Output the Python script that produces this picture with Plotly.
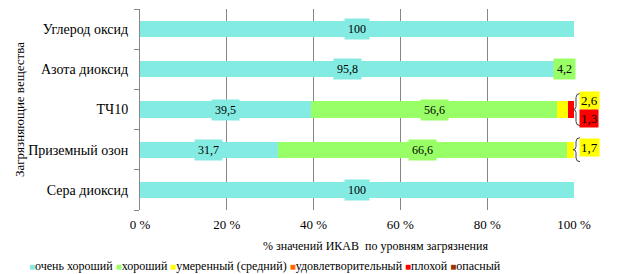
import plotly.graph_objects as go

categories = ["Углерод оксид", "Азота диоксид", "ТЧ10", "Приземный озон", "Сера диоксид"]
levels = ["очень хороший", "хороший", "умеренный (средний)", "удовлетворительный", "плохой", "опасный"]
colors = ["#83EBE2", "#99FF66", "#FFFF00", "#FF6600", "#FF0000", "#993300"]
values = {
    "очень хороший":       [100, 95.8, 39.5, 31.7, 100],
    "хороший":             [0, 4.2, 56.6, 66.6, 0],
    "умеренный (средний)": [0, 0, 2.6, 1.7, 0],
    "удовлетворительный":  [0, 0, 0, 0, 0],
    "плохой":              [0, 0, 1.3, 0, 0],
    "опасный":             [0, 0, 0, 0, 0],
}
tick_vals = [0, 20, 40, 60, 80, 100]
tick_text = ["0 %", "20 %", "40 %", "60 %", "80 %", "100 %"]

FONT = "Liberation Serif"
cat_order = categories[::-1]
fig = go.Figure()
for lv, col in zip(levels, colors):
    fig.add_trace(go.Bar(
        y=categories, x=values[lv], name=lv, orientation="h",
        marker=dict(color=col, line=dict(width=0)), showlegend=False,
    ))

def fmt(v):
    return str(int(v)) if v == int(v) else f"{v:.1f}".replace(".", ",")

def brace(h):
    return (f"M 6,{h} Q 2,{h} 2,{h-4} L 2,3 Q 2,0 -1,0 Q 2,0 2,-3 "
            f"L 2,{-h+4} Q 2,{-h} 6,{-h}")

# data labels
for i, cat in enumerate(categories):
    cum = 0
    outside = []
    for lv, col in zip(levels, colors):
        v = values[lv][i]
        if v <= 0:
            continue
        if v >= 4:
            fig.add_annotation(x=cum + v / 2, y=cat, text=fmt(v), showarrow=False,
                               bgcolor=col, font=dict(family=FONT, size=12, color="black"),
                               borderpad=3)
        else:
            outside.append((v, col))
        cum += v
    if outside:
        n = len(outside)
        for k, (v, col) in enumerate(outside):
            shift = 2.5 if n == 1 else (9.5 if k == 0 else -8.5)
            fig.add_annotation(x=100, y=cat, text=fmt(v), showarrow=False, xanchor="left",
                               xshift=5, yshift=shift, bgcolor=col,
                               font=dict(family=FONT, size=13, color="black"), borderpad=1)
        fig.add_shape(type="path", xref="paper", yref="y",
                      xsizemode="pixel", ysizemode="pixel",
                      xanchor=1, yanchor=cat_order.index(cat),
                      path=brace(12 if n == 1 else 16),
                      line=dict(color="#404040", width=1), layer="above")

# x axis title
fig.add_annotation(xref="paper", yref="paper", x=(375 - 140) / 434, y=-(246 - 210) / 201,
                   xanchor="center", yanchor="middle", showarrow=False,
                   text="% значений ИКАВ&nbsp;&nbsp;по уровням загрязнения",
                   font=dict(family=FONT, size=12, color="black"))

# legend (single row)
legend_text = " ".join(
    f"<span style='color:{c};font-size:10px'>■</span>{lv}" for lv, c in zip(levels, colors)
)
fig.add_annotation(xref="paper", yref="paper", x=(265 - 140) / 434, y=-(266 - 210) / 201,
                   xanchor="center", yanchor="middle", showarrow=False, text=legend_text,
                   font=dict(family=FONT, size=12, color="black"))

fig.update_layout(
    barmode="stack", bargap=0.6,
    width=619, height=274,
    margin=dict(l=140, r=45, t=9, b=64),
    paper_bgcolor="white", plot_bgcolor="white",
    font=dict(family=FONT, size=12, color="black"),
    showlegend=False,
    xaxis=dict(range=[0, 100], tickvals=tick_vals, ticktext=tick_text,
               showgrid=True, gridcolor="#878787", gridwidth=1, zeroline=False,
               showline=False, ticks="", ticklabelstandoff=5,
               tickfont=dict(family=FONT, size=13)),
    yaxis=dict(categoryorder="array", categoryarray=cat_order,
               showline=True, linecolor="#878787", ticks="outside", ticklen=5,
               tickcolor="#878787", tickson="boundaries", ticklabelstandoff=8,
               tickfont=dict(family=FONT, size=14),
               title=dict(text="Загрязняющие вещества", font=dict(family=FONT, size=13), standoff=0)),
)

fig.write_html("out.html")
